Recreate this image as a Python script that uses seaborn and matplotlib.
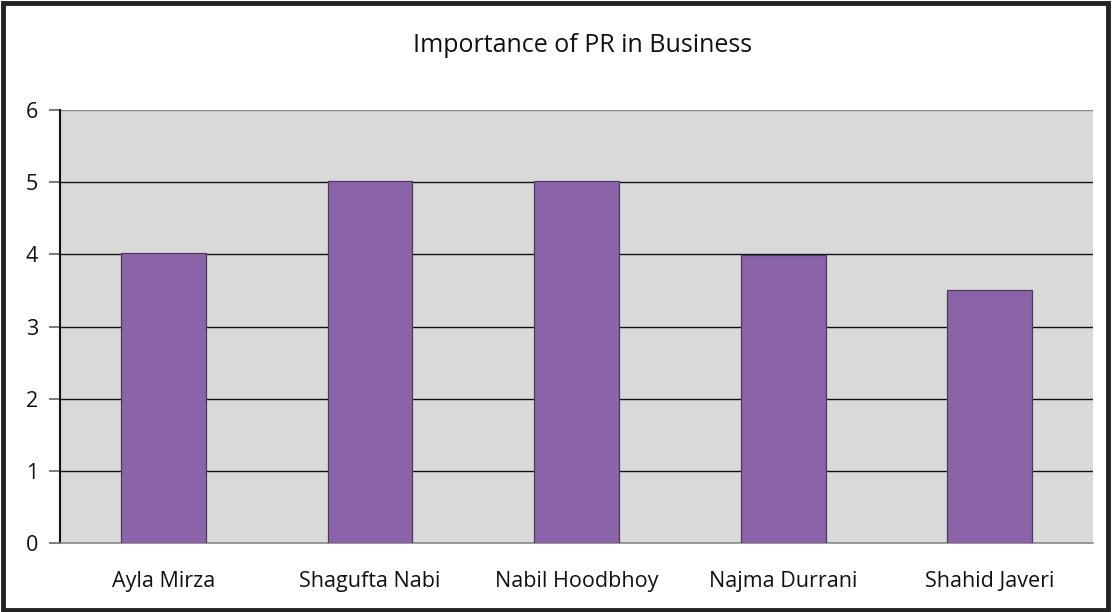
import pandas as pd
import matplotlib.pyplot as plt
import seaborn as sns

# Dados
nomes = ["Ayla Mirza", "Shagufta Nabi", "Nabil Hoodbhoy", "Najma Durrani", "Shahid Javeri"]
valores = [4.02, 5.02, 5.02, 3.99, 3.5]
titulo = "Importance of PR in Business"

df = pd.DataFrame({"nome": nomes, "valor": valores})

sns.set_style("white")
plt.rcParams["font.family"] = ["Open Sans", "DejaVu Sans"]
plt.rcParams["text.color"] = "#111111"
plt.rcParams["xtick.labelcolor"] = "#111111"
plt.rcParams["ytick.labelcolor"] = "#111111"

fig = plt.figure(figsize=(11.12, 6.12), dpi=100)
ax = fig.add_axes([0.054, 0.1127, 0.929, 0.7076])
fig.patches.append(plt.Rectangle((0.003, 0.004), 0.993, 0.991, transform=fig.transFigure,
                                 fill=False, edgecolor="#222222", linewidth=3.5))

sns.barplot(data=df, x="nome", y="valor", color="#8b63a9", width=0.41,
            edgecolor="#4b3a5c", linewidth=0.9, saturation=1, ax=ax, zorder=3)

ax.set_facecolor("#d9d9d9")
ax.set_ylim(0, 6)
ax.set_xlim(-0.5, len(nomes) - 0.5)
ax.set_yticks(range(0, 7))
for y in range(1, 6):
    ax.axhline(y, color="#111111", linewidth=1.0, zorder=1)
ax.axhline(6, color="#888888", linewidth=1.0, zorder=1)

for s in ["top", "right"]:
    ax.spines[s].set_visible(False)
ax.spines["left"].set_color("#111111")
ax.spines["left"].set_linewidth(1.5)
ax.spines["bottom"].set_color("#888888")
ax.spines["bottom"].set_linewidth(1.2)

# ticks nas fronteiras das categorias
ax.set_xticks([i + 0.5 for i in range(-1, len(nomes))], minor=True)
ax.set_xticks(range(len(nomes)))
ax.tick_params(axis="x", which="major", length=0, pad=20, labelsize=15.5, labelcolor="#111111")
ax.tick_params(axis="x", which="minor", length=7, width=1.5, color="#111111", direction="out")
ax.tick_params(axis="y", length=8, width=1.2, color="#666666", pad=8, labelsize=15.5,
               direction="out", left=True, labelcolor="#111111")
ax.set_xlabel("")
ax.set_ylabel("")

fig.text(0.524, 0.925, titulo, ha="center", va="center", fontsize=18, color="#111111")

plt.savefig("out.png", dpi=100)
plt.close()
